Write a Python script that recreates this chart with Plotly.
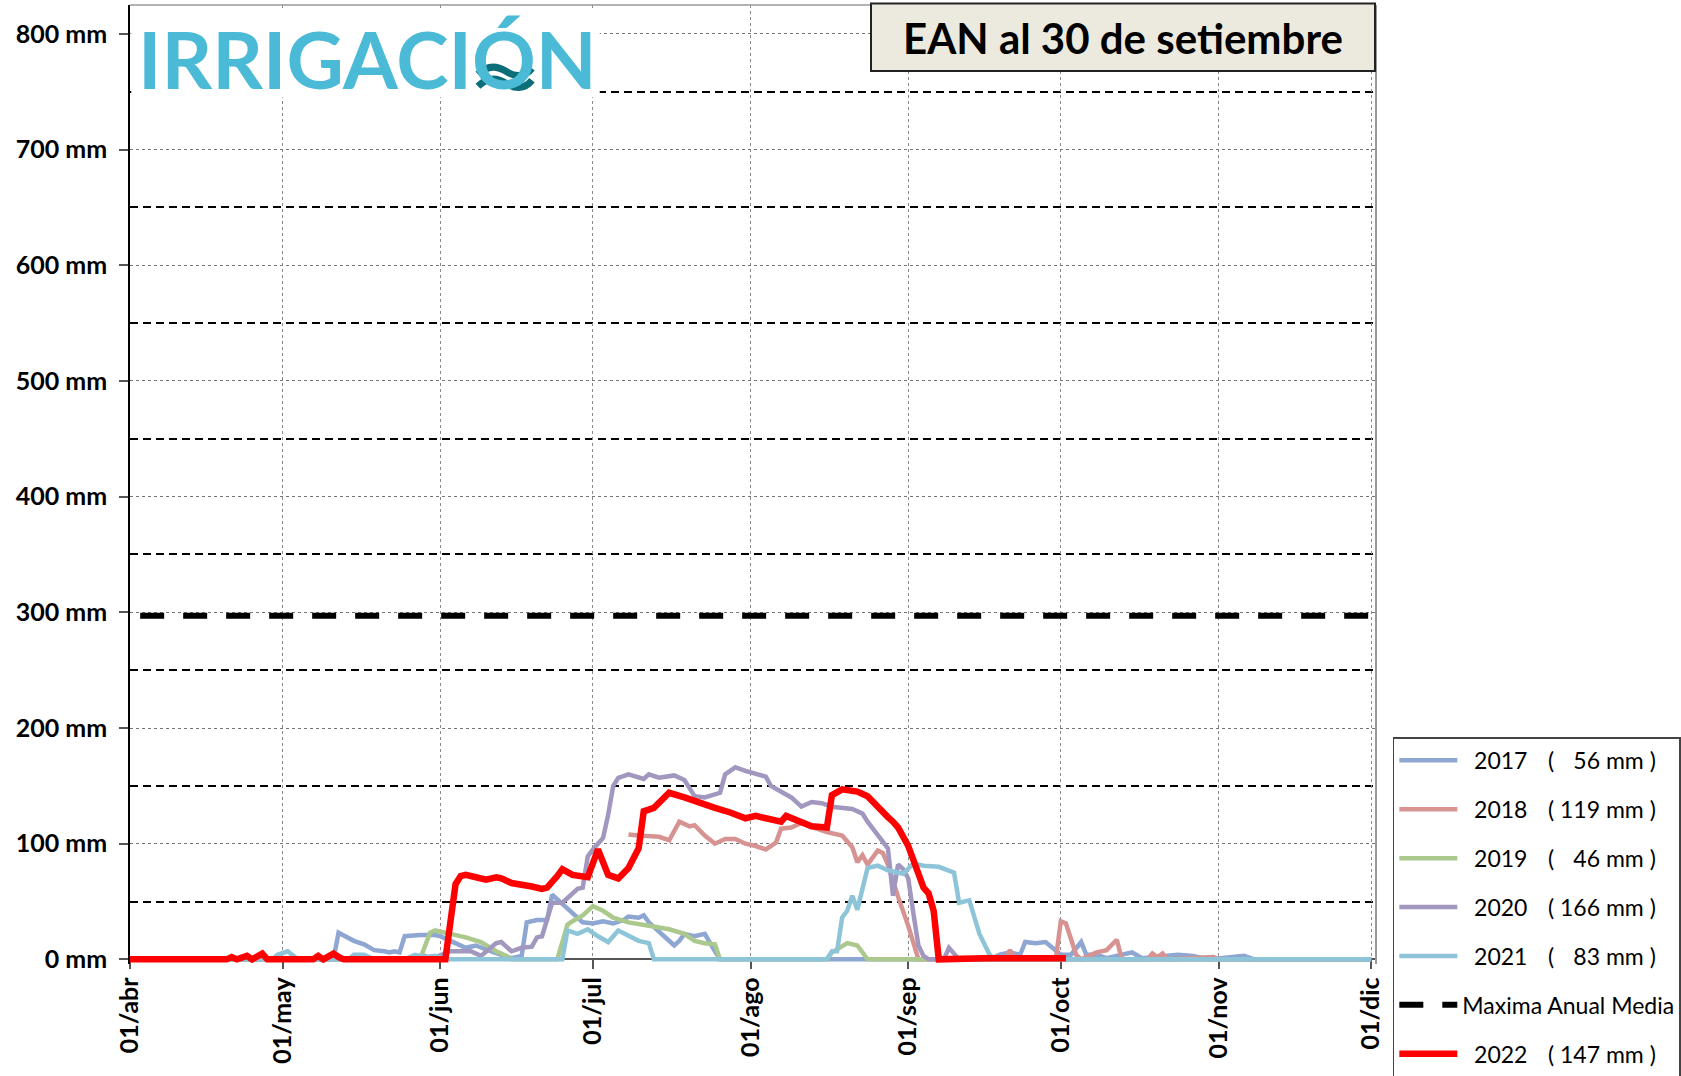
import pandas as pd
import plotly.graph_objects as go

# Season origin: every series is indexed by days elapsed since 1 April
season_start = pd.Timestamp("2022-04-01")

# Snow water equivalent (mm) per season, sampled at day offsets
days_2017 = [0, 40, 41, 44, 46, 48, 50, 51, 52, 53, 54, 57, 60, 61, 63, 66, 68, 69, 71, 73, 75, 77,
             78, 80, 82, 83, 85, 87, 89, 91, 93, 95, 97, 98, 100, 101, 102, 105, 107, 108, 109, 111,
             113, 115, 116, 169, 171, 173, 175, 176, 178, 180, 182, 183, 185, 187, 188, 190, 192,
             197, 199, 206, 209, 212, 219, 221, 244]
swe_2017 = [0, 0, 23, 16, 13, 8, 7, 6, 7, 6, 20, 21, 21, 20, 16, 10, 12, 10, 7, 4, 1, 3,
            32, 34, 34, 56, 48, 39, 32, 31, 33, 31, 34, 37, 36, 38, 32, 20, 12, 16, 22, 20,
            22, 7, 0, 0, 4, 6, 4, 15, 14, 15, 8, 4, 4, 15, 4, 4, 1,
            6, 1, 4, 3, 0, 3, 0, 0]

days_2018 = [98, 100, 104, 106, 108, 110, 111, 113, 115, 117, 119, 121, 123, 125, 127, 128, 130,
             132, 135, 137, 140, 142, 143, 144, 145, 147, 148, 149, 151, 153, 155, 172, 173, 174,
             182, 183, 184, 186, 187, 190, 192, 194, 195, 200, 201, 202, 203, 204, 213, 214, 244]
swe_2018 = [108, 107, 106, 103, 119, 115, 116, 107, 100, 104, 104, 100, 98, 95, 101, 113, 114,
            118, 113, 110, 107, 97, 84, 90, 82, 94, 92, 82, 54, 29, 0, 0, 8, 0,
            0, 33, 31, 4, 0, 6, 8, 17, 0, 0, 5, 2, 5, 0, 2, 0, 0]

days_2019 = [0, 57, 59, 60, 63, 66, 69, 72, 74, 75, 84, 86, 87, 89, 91, 93, 95, 98, 102, 106,
             109, 111, 113, 115, 116, 137, 138, 141, 143, 145, 244]
swe_2019 = [0, 0, 23, 25, 22, 19, 15, 7, 3, 0, 0, 30, 33, 38, 46, 42, 36, 32, 29, 26,
            22, 16, 14, 13, 0, 0, 6, 14, 12, 0, 0]

days_2020 = [0, 56, 58, 59, 63, 67, 69, 72, 73, 75, 77, 79, 80, 81, 83, 85, 88, 89, 90, 91, 93,
             94, 95, 96, 98, 101, 102, 104, 107, 109, 110, 111, 113, 115, 116, 117, 119, 121,
             123, 125, 126, 128, 130, 132, 134, 136, 138, 142, 144, 145, 147, 149, 150, 151,
             152, 153, 154, 155, 156, 157, 160, 161, 163, 244]
swe_2020 = [0, 0, 3, 0, 7, 7, 3, 14, 15, 7, 10, 11, 19, 20, 49, 49, 61, 62, 89, 95, 105,
            125, 150, 157, 160, 156, 160, 157, 159, 155, 148, 141, 140, 142, 144, 160, 166, 163,
            160, 158, 150, 145, 140, 132, 136, 135, 132, 130, 126, 119, 108, 96, 55, 82,
            78, 70, 40, 12, 3, 0, 0, 10, 0, 0]

days_2021 = [0, 28, 29, 31, 33, 43, 44, 46, 48, 54, 56, 58, 60, 62, 85, 86, 88, 90, 92, 94, 96,
             98, 100, 102, 103, 137, 138, 139, 140, 141, 142, 143, 145, 147, 149, 152, 154, 156,
             159, 162, 163, 165, 167, 169, 170, 244]
swe_2021 = [0, 0, 4, 7, 0, 0, 4, 4, 0, 0, 4, 2, 3, 0, 0, 25, 22, 26, 20, 15, 25,
            20, 16, 14, 0, 0, 7, 7, 36, 42, 55, 43, 79, 81, 77, 74, 83, 81,
            80, 75, 49, 51, 22, 4, 0, 0]

days_2022 = [0, 19, 20, 21, 23, 24, 26, 27, 36, 37, 38, 40, 41, 42, 62, 63, 64, 65, 66, 68, 70,
             72, 73, 75, 77, 79, 81, 82, 84, 85, 87, 89, 90, 92, 94, 96, 98, 100, 101, 103, 106,
             109, 112, 115, 118, 121, 123, 125, 128, 129, 132, 134, 137, 138, 140, 143, 145, 147,
             149, 150, 151, 153, 154, 156, 157, 158, 159, 163, 168, 172, 176, 180, 184]
swe_2022 = [0, 0, 2, 0, 3, 0, 5, 0, 0, 3, 0, 5, 2, 0, 0, 35, 65, 72, 73, 71, 69,
            71, 70, 66, 65, 63, 61, 62, 72, 78, 73, 72, 71, 95, 73, 70, 79, 96, 128, 131, 144,
            140, 135, 131, 127, 122, 124, 122, 119, 124, 119, 115, 114, 142, 147, 145, 141, 131,
            123, 119, 114, 98, 87, 62, 57, 42, 0, 1, 1, 1, 1, 1, 1]

# Long-term mean of the annual maximum
maxima_days = [2, 246]
maxima_media = 297

years = ["2017", "2018", "2019", "2020", "2021", "2022"]
peaks = [56, 119, 46, 166, 83, 147]
colors = ["#8EA6D2", "#D69391", "#ABC88D", "#A297BF", "#8DC4D8", "#FF0000"]

month_ticks = ["2022-04-01", "2022-05-01", "2022-06-01", "2022-07-01", "2022-08-01",
               "2022-09-01", "2022-10-01", "2022-11-01", "2022-12-01"]
month_labels = ["01/abr", "01/may", "01/jun", "01/jul", "01/ago",
                "01/sep", "01/oct", "01/nov", "01/dic"]
y_ticks = [0, 100, 200, 300, 400, 500, 600, 700, 800]
y_minor = [50, 150, 250, 350, 450, 550, 650, 750]

NB = "\u00a0"
FS = "\u2007"
TS = "\u2009"


def to_dates(days):
    return season_start + pd.to_timedelta(days, unit="D")


def label(year, peak):
    return f"{NB}{NB}{year}{NB}{NB}{NB}{TS}({NB}{str(peak).rjust(3, FS)}{NB}mm{NB})"


series = [
    (days_2017, swe_2017),
    (days_2018, swe_2018),
    (days_2019, swe_2019),
    (days_2020, swe_2020),
    (days_2021, swe_2021),
]

fig = go.Figure()

for (d, v), yr, pk, col in zip(series, years[:5], peaks[:5], colors[:5]):
    fig.add_trace(go.Scatter(
        x=to_dates(d), y=v, mode="lines", name=label(yr, pk),
        line=dict(color=col, width=4.5), legendgroup=yr,
    ))

fig.add_trace(go.Scatter(
    x=to_dates(maxima_days), y=[maxima_media] * len(maxima_days), mode="lines",
    name="Maxima Anual Media", line=dict(color="black", width=6, dash="24px,19px"),
    legendgroup="media",
))

fig.add_trace(go.Scatter(
    x=to_dates(days_2022), y=swe_2022, mode="lines", name=label(years[5], peaks[5]),
    line=dict(color=colors[5], width=6.5), legendgroup=years[5],
))

y_lo, y_hi = -4, 825

fig.update_layout(
    width=1681, height=1076,
    margin=dict(l=130, r=305, t=5, b=112, autoexpand=False),
    paper_bgcolor="white", plot_bgcolor="white",
    font=dict(family="Lato", color="black"),
    showlegend=True,
    legend=dict(
        x=1.0135, y=0.2363, xanchor="left", yanchor="top",
        bgcolor="white", bordercolor="#444", borderwidth=1.5,
        font=dict(family="Lato", size=23, color="black"),
        tracegroupgap=16, itemwidth=58, traceorder="grouped",
    ),
    xaxis=dict(
        type="date", range=["2022-04-01", "2022-12-01 23:00"],
        tickvals=month_ticks, ticktext=month_labels, tickangle=-90,
        ticks="outside", ticklen=9, tickcolor="#555", tickwidth=1.5,
        tickfont=dict(family="Lato", size=25, color="black", weight="bold"),
        ticklabelstandoff=-2,
        showgrid=True, gridcolor="#8a8a8a", griddash="dot", gridwidth=1,
        showline=True, linecolor="#555", linewidth=2,
        anchor="free", position=(0 - y_lo) / (y_hi - y_lo),
        layer="below traces", zeroline=False,
    ),
    yaxis=dict(
        range=[y_lo, y_hi], tickvals=y_ticks, ticktext=[f"{t} mm" for t in y_ticks],
        ticks="outside", ticklen=9, tickcolor="#555", tickwidth=1.5,
        tickfont=dict(family="Lato", size=25, color="black", weight="bold"),
        ticklabelstandoff=7,
        showgrid=True, gridcolor="#777", griddash="dot", gridwidth=1,
        minor=dict(tickvals=y_minor, showgrid=True, gridcolor="black",
                   griddash="8px,5px", gridwidth=1.7, ticks=""),
        showline=True, linecolor="black", linewidth=1.5, zeroline=False,
    ),
)

# Frame: top and right borders
fig.add_shape(type="line", xref="paper", yref="paper", x0=0, x1=1, y0=1, y1=1,
              line=dict(color="#999", width=1.5))
fig.add_shape(type="line", xref="paper", yref="paper", x0=1, x1=1, y0=0, y1=1,
              line=dict(color="#999", width=2))

# Logo panel
fig.add_shape(type="rect", xref="paper", yref="paper", x0=0.001, x1=0.377, y0=0.9037, y1=0.9945,
              fillcolor="white", line=dict(width=0), layer="above")
fig.add_annotation(xref="paper", yref="paper", x=0.0049, y=0.9443, xanchor="left", yanchor="middle",
                   text="<b>IRRIGACIÓN</b>", showarrow=False,
                   font=dict(family="Lato", size=79, color="#4BBAD6"))


# Water waves inside the Ó of the logo (pixel layout mapped to paper space)
def px(x):
    return (x - 130) / 1246


def py(y):
    return (963.6 - y) / 958.9


def wave(dy):
    pts = [(478, 74 + dy), (488, 64 + dy), (498, 66 + dy), (506, 71 + dy),
           (524, 78 + dy), (532, 68 + dy)]
    p = [f"{px(a):.5f},{py(b):.5f}" for a, b in pts]
    return f"M{p[0]} C{p[1]} {p[2]} {p[3]} S{p[4]} {p[5]}"


for dy in (0, 12):
    fig.add_shape(type="path", xref="paper", yref="paper", path=wave(dy),
                  line=dict(color="white", width=12), layer="above")
for dy in (0, 12):
    fig.add_shape(type="path", xref="paper", yref="paper", path=wave(dy),
                  line=dict(color="#0B6E78", width=7), layer="above")

# Title box
fig.add_shape(type="rect", xref="paper", yref="paper", x0=0.5947, x1=0.9992, y0=0.9312, y1=1.0015,
              fillcolor="#ECEADF", line=dict(color="#222", width=2), layer="above")
fig.add_annotation(xref="paper", yref="paper", x=0.797, y=0.9658, xanchor="center", yanchor="middle",
                   text="<b>EAN al 30 de setiembre</b>", showarrow=False,
                   font=dict(family="Lato", size=42, color="black"))

fig.write_html("out.html")
